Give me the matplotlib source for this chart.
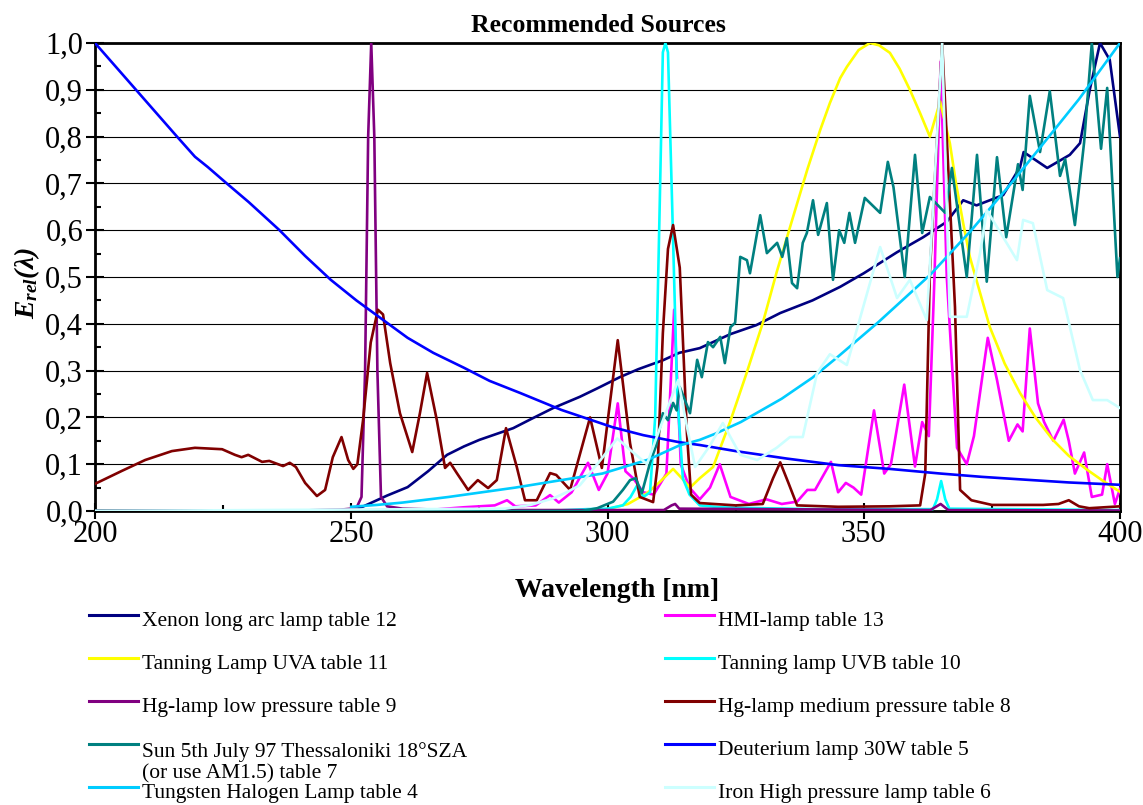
import matplotlib
matplotlib.use('Agg')
import matplotlib.pyplot as plt
from matplotlib.lines import Line2D
from matplotlib.ticker import MultipleLocator

plt.rcParams['font.family'] = ['Liberation Serif', 'DejaVu Serif']
plt.rcParams['mathtext.fontset'] = 'custom'
plt.rcParams['mathtext.rm'] = 'Liberation Serif:italic:bold'
plt.rcParams['mathtext.it'] = 'Liberation Serif:italic:bold'
plt.rcParams['mathtext.bf'] = 'Liberation Serif:italic:bold'

# (wavelength nm, relative irradiance)
xenon = [(200, 0), (245, 0.0), (250, 0.003), (252, 0.008), (254.2, 0.019), (257, 0.033),
         (261, 0.051), (265, 0.085), (268.7, 0.12), (272, 0.138), (275, 0.152), (281.6, 0.177),
         (285, 0.196), (289.4, 0.22), (294.6, 0.244), (298, 0.262), (302.4, 0.286), (306, 0.303),
         (310.8, 0.322), (314, 0.338), (318, 0.348), (324, 0.378), (329, 0.397), (333.7, 0.423),
         (340, 0.45), (345.4, 0.479), (350, 0.508), (356.5, 0.553), (361.6, 0.585), (366.2, 0.618),
         (369.4, 0.664), (372, 0.653), (377.2, 0.675), (380.5, 0.735), (381.2, 0.767),
         (385.8, 0.733), (390.2, 0.761), (392.2, 0.786), (394.1, 0.9), (396.1, 1.0), (398, 0.964),
         (400, 0.8)]

hmi = [(200, 0), (265, 0.002), (272, 0.008), (278, 0.012), (280.4, 0.023), (282, 0.01),
       (286, 0.012), (288.8, 0.034), (290.5, 0.018), (293, 0.04), (296.2, 0.103), (298.3, 0.045),
       (300, 0.08), (302, 0.23), (303.5, 0.085), (305, 0.07), (307, 0.04), (309, 0.035),
       (311.5, 0.08), (313, 0.43), (314.3, 0.1), (316, 0.05), (318, 0.025), (320, 0.05),
       (321.9, 0.1), (324, 0.03), (327.6, 0.015), (331, 0.025), (334, 0.015), (337, 0.02),
       (339, 0.045), (340.5, 0.045), (343.6, 0.105), (345, 0.04), (346.5, 0.06), (348, 0.05),
       (349.5, 0.035), (352, 0.215), (354, 0.08), (355.3, 0.1), (357.9, 0.27), (360, 0.095),
       (361.4, 0.19), (362.7, 0.16), (363.8, 0.5), (365, 0.96), (366.2, 0.5), (368.2, 0.135),
       (370.1, 0.1), (371.5, 0.16), (374.2, 0.37), (376, 0.28), (378.3, 0.15), (380, 0.185),
       (381, 0.17), (382.4, 0.39), (384, 0.23), (385.2, 0.19), (387, 0.15), (389, 0.195),
       (390, 0.15), (391.2, 0.08), (393, 0.125), (394.5, 0.03), (396.5, 0.035), (397.5, 0.1),
       (399, 0.015), (400, 0.047)]

uva = [(200, 0), (295, 0.0), (300, 0.004), (304, 0.015), (307.7, 0.038), (310, 0.06),
       (312.8, 0.09), (314.5, 0.07), (316.1, 0.05), (318, 0.07), (320.6, 0.094), (323.9, 0.19),
       (327, 0.29), (330.3, 0.402), (333, 0.51), (336.2, 0.628), (339, 0.73), (341.5, 0.814),
       (343.4, 0.872), (345.4, 0.925), (346.7, 0.949), (349, 0.985), (351.2, 1.0), (353, 0.995),
       (355.1, 0.979), (357, 0.945), (359, 0.9), (361, 0.85), (362.9, 0.8), (364.9, 0.875),
       (366.8, 0.786), (368, 0.7), (369.4, 0.615), (370.7, 0.543), (372.7, 0.466),
       (374.6, 0.393), (377.5, 0.315), (380.5, 0.252), (383.5, 0.2), (386.9, 0.152),
       (390, 0.118), (393.6, 0.088), (397, 0.062), (400, 0.041)]

uvb = [(200, 0), (290, 0.001), (296, 0.004), (300, 0.005), (303, 0.012), (304.5, 0.03),
       (305.8, 0.055), (307, 0.03), (308.3, 0.04), (309.3, 0.2), (310.2, 0.66), (310.8, 0.98),
       (311.3, 1.0), (311.8, 0.98), (312.6, 0.66), (313.6, 0.25), (314.7, 0.07), (316, 0.035),
       (318, 0.012), (322, 0.008), (330, 0.006), (340, 0.004), (363.5, 0.004), (364.3, 0.025),
       (365.1, 0.064), (365.9, 0.025), (366.7, 0.005), (400, 0.002)]

hg_low = [(200, 0), (240, 0.001), (248, 0.003), (251, 0.006), (252, 0.03), (252.7, 0.3),
          (253.3, 0.8), (253.9, 1.0), (254.5, 0.8), (255.1, 0.3), (255.8, 0.03), (257, 0.01),
          (260, 0.005), (270, 0.002), (311, 0.002), (312.5, 0.012), (313.2, 0.015), (314, 0.005),
          (363, 0.002), (365, 0.015), (366.5, 0.002), (400, 0.001)]

hg_medium = [(200, 0.058), (205.3, 0.086), (209.8, 0.109), (215, 0.128), (219.5, 0.135),
             (224.8, 0.132), (227.3, 0.12), (228.6, 0.115), (229.9, 0.12), (232.6, 0.105),
             (234, 0.107), (236.7, 0.096), (238, 0.103), (239.2, 0.094), (241, 0.06),
             (243.3, 0.032), (244.9, 0.045), (246.4, 0.115), (248.1, 0.158), (249.4, 0.109),
             (250.4, 0.09), (251.2, 0.1), (252.3, 0.194), (253.8, 0.36), (255.2, 0.43),
             (256.2, 0.42), (257.6, 0.316), (259.5, 0.209), (261.9, 0.126), (263.4, 0.209),
             (264.8, 0.295), (266.7, 0.194), (268.3, 0.092), (269.3, 0.103), (270.6, 0.081),
             (272.8, 0.045), (274.7, 0.066), (276.7, 0.049), (278.4, 0.066), (280.2, 0.177),
             (282.3, 0.094), (283.9, 0.023), (286.2, 0.023), (288.8, 0.081), (290, 0.077),
             (292.7, 0.045), (296.6, 0.2), (298.9, 0.092), (302, 0.365), (304.4, 0.145),
             (306.3, 0.03), (308.9, 0.019), (309.8, 0.1), (310.8, 0.38), (311.8, 0.56),
             (312.8, 0.611), (314.1, 0.52), (315.5, 0.166), (316.3, 0.035), (318, 0.017),
             (325, 0.012), (330.3, 0.015), (332.3, 0.07), (333.7, 0.104), (335.3, 0.06),
             (337, 0.012), (345, 0.009), (355, 0.01), (361, 0.012), (362, 0.08), (362.9, 0.51),
             (365.3, 1.0), (367.8, 0.436), (368.8, 0.045), (371, 0.023), (375, 0.013),
             (385, 0.013), (388, 0.015), (390, 0.023), (392, 0.01), (394, 0.006), (400, 0.01)]

sun = [(200, 0), (295, 0.0), (298, 0.006), (301.1, 0.02), (303, 0.045), (304.4, 0.066),
       (305.5, 0.07), (306.7, 0.038), (308.3, 0.103), (309.5, 0.14), (310.8, 0.209),
       (311.8, 0.194), (312.8, 0.231), (313.5, 0.215), (314.1, 0.265), (316.1, 0.209),
       (317.5, 0.323), (318.4, 0.286), (319.6, 0.361), (320.6, 0.35), (322, 0.372),
       (322.9, 0.316), (324, 0.393), (324.9, 0.402), (325.9, 0.543), (327.2, 0.536),
       (327.8, 0.508), (329.8, 0.632), (331.1, 0.551), (333.1, 0.573), (334.1, 0.543),
       (335, 0.583), (336, 0.487), (337, 0.476), (338.1, 0.573), (338.9, 0.594), (340.1, 0.664),
       (341.1, 0.59), (342.8, 0.658), (344, 0.494), (345.2, 0.6), (346.2, 0.573),
       (347.2, 0.637), (348.3, 0.573), (350.2, 0.669), (353.2, 0.637), (354.7, 0.746),
       (355.8, 0.692), (358, 0.5), (360, 0.761), (361.4, 0.594), (362.9, 0.671),
       (365.9, 0.637), (367.2, 0.733), (370.1, 0.5), (372.1, 0.761), (374, 0.49), (376, 0.756),
       (377.8, 0.585), (380.1, 0.741), (381, 0.686), (382.4, 0.887), (384.4, 0.767),
       (386.3, 0.897), (388.3, 0.716), (389.3, 0.752), (391.2, 0.611), (393, 0.788),
       (394.5, 1.0), (396.3, 0.774), (397.5, 0.904), (399.5, 0.5), (400, 0.54)]

deuterium = [(200, 1.0), (204, 0.95), (208, 0.90), (212, 0.85), (216, 0.80), (219.5, 0.757),
             (222, 0.735), (225.7, 0.70), (230, 0.66), (236, 0.60), (241, 0.545), (246, 0.494),
             (251, 0.45), (256, 0.41), (261, 0.37), (266, 0.338), (272, 0.306), (277, 0.278),
             (283, 0.252), (291, 0.216), (301, 0.179), (307, 0.162), (314, 0.147), (318, 0.141),
             (325, 0.128), (335, 0.112), (345, 0.098), (355, 0.09), (365, 0.08), (373, 0.073),
             (380, 0.068), (390, 0.061), (400, 0.056)]

tungsten = [(250, 0.009), (255, 0.013), (260, 0.018), (269, 0.03), (282, 0.05), (291, 0.066),
            (299, 0.08), (308, 0.11), (314, 0.14), (318, 0.152), (321, 0.165), (326, 0.19),
            (334, 0.24), (340, 0.285), (345, 0.33), (353, 0.405), (363, 0.505), (371, 0.6),
            (378, 0.69), (384, 0.771), (392, 0.88), (400, 1.0)]

iron = [(200, 0), (280, 0.005), (285, 0.013), (289.4, 0.027), (292, 0.04), (294.6, 0.055),
        (298, 0.1), (301.9, 0.155), (304.5, 0.13), (307.7, 0.1), (310, 0.17), (313.8, 0.28),
        (315.5, 0.18), (317.1, 0.094), (320, 0.14), (322.5, 0.188), (325.9, 0.12),
        (329.2, 0.109), (333, 0.135), (335.6, 0.158), (338.1, 0.158), (340.9, 0.295),
        (343.4, 0.335), (346.7, 0.312), (350, 0.44), (353.2, 0.564), (356.5, 0.455),
        (359, 0.494), (362.3, 0.408), (363.8, 0.7), (365.3, 1.0), (366.8, 0.415),
        (370.1, 0.415), (372.7, 0.551), (374, 0.643), (377.2, 0.585), (379.9, 0.536),
        (381.1, 0.622), (383, 0.615), (385.8, 0.472), (388.9, 0.455), (392.2, 0.301),
        (394.7, 0.237), (397.5, 0.237), (400, 0.22)]

# drawing order, later ones on top
series = [
    ("Xenon long arc lamp table 12", xenon, "#000080"),
    ("HMI-lamp table 13", hmi, "#FF00FF"),
    ("Tanning Lamp UVA table 11", uva, "#FFFF00"),
    ("Tanning lamp UVB table 10", uvb, "#00FFFF"),
    ("Hg-lamp low pressure table 9", hg_low, "#800080"),
    ("Hg-lamp medium pressure table 8", hg_medium, "#800000"),
    ("Sun 5th July 97 Thessaloniki 18°SZA\n(or use AM1.5) table 7", sun, "#008080"),
    ("Deuterium lamp 30W table 5", deuterium, "#0000FF"),
    ("Tungsten Halogen Lamp table 4", tungsten, "#00CCFF"),
    ("Iron High pressure lamp table 6", iron, "#CCFFFF"),
]

x_ticks = [200, 250, 300, 350, 400]
x_ticklabels = ['200', '250', '300', '350', '400']
y_ticks = [i / 10 for i in range(11)]
y_ticklabels = ['0,0', '0,1', '0,2', '0,3', '0,4', '0,5', '0,6', '0,7', '0,8', '0,9', '1,0']

W, H = 1143, 805
fig = plt.figure(figsize=(W / 100, H / 100), dpi=100)
ax = fig.add_axes([95 / W, 1 - 511 / H, (1120 - 95) / W, (511 - 43) / H])

for label, pts, color in series:
    xs, ys = zip(*pts)
    ax.plot(xs, ys, color=color, lw=1.9, solid_joinstyle='round', zorder=3)

ax.set_xlim(200, 400)
ax.set_ylim(0, 1)
ax.set_xticks(x_ticks, x_ticklabels)
ax.set_yticks(y_ticks, y_ticklabels)
ax.xaxis.set_minor_locator(MultipleLocator(25))
ax.yaxis.set_minor_locator(MultipleLocator(0.05))
ax.yaxis.grid(True, color='black', lw=0.8, zorder=1)
ax.set_axisbelow(True)
ax.tick_params(axis='both', which='major', direction='inout', width=1.5, labelsize=22)
ax.tick_params(axis='x', which='major', length=11, pad=1)
ax.tick_params(axis='y', which='major', length=13, pad=2)
ax.tick_params(axis='both', which='minor', direction='in', length=4.3, width=1.5)
for sp in ax.spines.values():
    sp.set_linewidth(2)

fig.text(598 / W, 1 - 25 / H, 'Recommended Sources', ha='center', va='center',
         fontsize=18.5, weight='bold')
fig.text(617 / W, 1 - 590 / H, 'Wavelength [nm]', ha='center', va='center',
         fontsize=20, weight='bold')
fig.text(27 / W, 1 - 283 / H, r'$E_{rel}(\lambda)$', ha='center', va='center',
         rotation=90, fontsize=20)

# legend, two columns
left_col = [0, 2, 4, 6, 8]
right_col = [1, 3, 5, 7, 9]
row_y = [615, 658, 701, 744, 787]
for col, (lx0, lx1, tx) in zip([left_col, right_col], [(89, 138, 142), (665, 714, 718)]):
    for idx, ry in zip(col, row_y):
        label, pts, color = series[idx]
        fig.add_artist(Line2D([lx0 / W, lx1 / W], [1 - ry / H, 1 - ry / H],
                              transform=fig.transFigure, color=color, lw=2.2))
        nlines = label.count('\n') + 1
        ty = ry + 6 + (nlines - 1) * 12.5
        fig.text(tx / W, 1 - ty / H, label, ha='left', va='center', fontsize=15.5,
                 linespacing=1.15)

fig.savefig('out.png', dpi=100)
